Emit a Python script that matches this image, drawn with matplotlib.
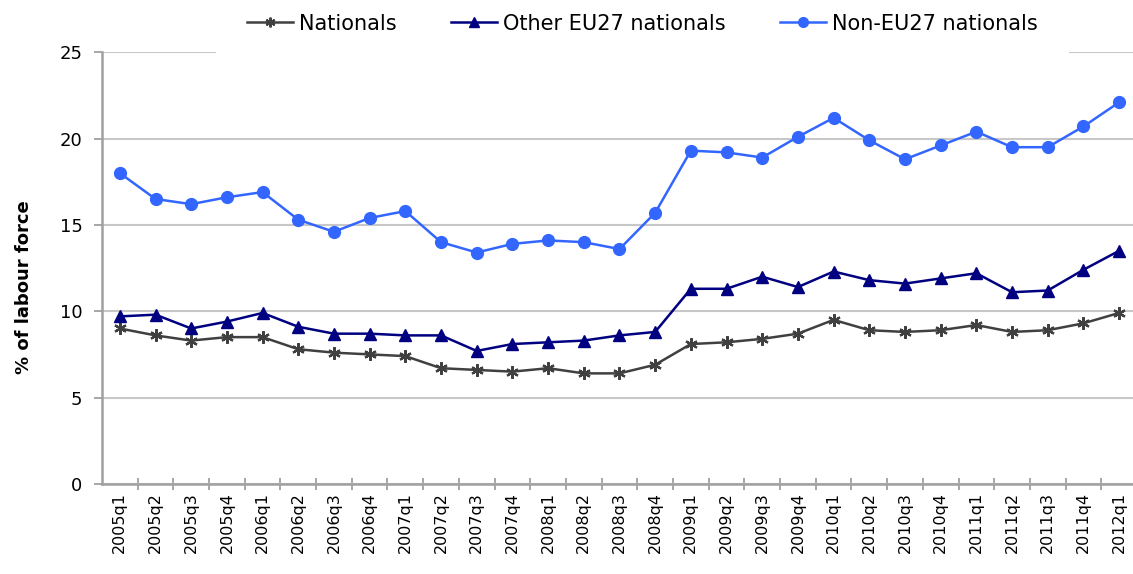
import numpy as np
import matplotlib
matplotlib.use("Agg")
import matplotlib.pyplot as plt
from matplotlib.ticker import FixedLocator

quarters = ["2005q1", "2005q2", "2005q3", "2005q4", "2006q1", "2006q2", "2006q3", "2006q4",
            "2007q1", "2007q2", "2007q3", "2007q4", "2008q1", "2008q2", "2008q3", "2008q4",
            "2009q1", "2009q2", "2009q3", "2009q4", "2010q1", "2010q2", "2010q3", "2010q4",
            "2011q1", "2011q2", "2011q3", "2011q4", "2012q1"]

nationals = [9.0, 8.6, 8.3, 8.5, 8.5, 7.8, 7.6, 7.5, 7.4, 6.7, 6.6, 6.5, 6.7, 6.4, 6.4,
             6.9, 8.1, 8.2, 8.4, 8.7, 9.5, 8.9, 8.8, 8.9, 9.2, 8.8, 8.9, 9.3, 9.9]
other_eu = [9.7, 9.8, 9.0, 9.4, 9.9, 9.1, 8.7, 8.7, 8.6, 8.6, 7.7, 8.1, 8.2, 8.3, 8.6,
            8.8, 11.3, 11.3, 12.0, 11.4, 12.3, 11.8, 11.6, 11.9, 12.2, 11.1, 11.2, 12.4, 13.5]
non_eu = [18.0, 16.5, 16.2, 16.6, 16.9, 15.3, 14.6, 15.4, 15.8, 14.0, 13.4, 13.9, 14.1, 14.0, 13.6,
          15.7, 19.3, 19.2, 18.9, 20.1, 21.2, 19.9, 18.8, 19.6, 20.4, 19.5, 19.5, 20.7, 22.1]

fig = plt.figure(figsize=(11.33, 5.74), dpi=100)
ax = fig.add_axes([0.090, 0.157, 0.9135, 0.752])

x = np.arange(len(quarters))
ax.plot(x, nationals, color="#404040", lw=1.8, marker=(6, 2, 0), ms=9, mew=1.6,
        label="Nationals", zorder=3)
ax.plot(x, other_eu, color="#000080", lw=1.8, marker="^", ms=8.5, label="Other EU27 nationals", zorder=3)
ax.plot(x, non_eu, color="#3366ff", lw=1.8, marker="o", ms=8.5, label="Non-EU27 nationals", zorder=3)

ax.set_xlim(-0.5, len(quarters) - 0.5)
ax.set_ylim(0, 25)
ax.set_yticks([0, 5, 10, 15, 20, 25])
ax.yaxis.grid(True, color="#c8c8c8", lw=1.5)
ax.set_axisbelow(True)

ax.set_xticks(x)
ax.set_xticklabels(quarters, rotation=90, fontsize=11.5)
ax.xaxis.set_minor_locator(FixedLocator(np.arange(0.5, len(quarters) - 1, 1)))
ax.tick_params(axis="x", which="major", length=0, pad=6)
ax.tick_params(axis="x", which="minor", length=8, direction="inout", color="#a0a0a0", width=1.3)
ax.tick_params(axis="y", length=6, color="#a0a0a0", width=1.3, labelsize=13, pad=8)

for s in ["top", "right"]:
    ax.spines[s].set_visible(False)
for s in ["left", "bottom"]:
    ax.spines[s].set_color("#a0a0a0")
    ax.spines[s].set_linewidth(1.8)

ax.set_ylabel("% of labour force", fontsize=13, fontweight="bold")
ax.yaxis.set_label_coords(-0.067, 0.456)

leg = ax.legend(loc="center", bbox_to_anchor=(0.522, 1.066), ncol=3, fontsize=15,
                frameon=True, facecolor="white", edgecolor="none", framealpha=1,
                handlelength=2.2, columnspacing=2.6, handletextpad=0.3, borderpad=1.5, fancybox=False)
for h in leg.legend_handles:
    h.set_markersize(7)

fig.savefig("out.png", dpi=100)
